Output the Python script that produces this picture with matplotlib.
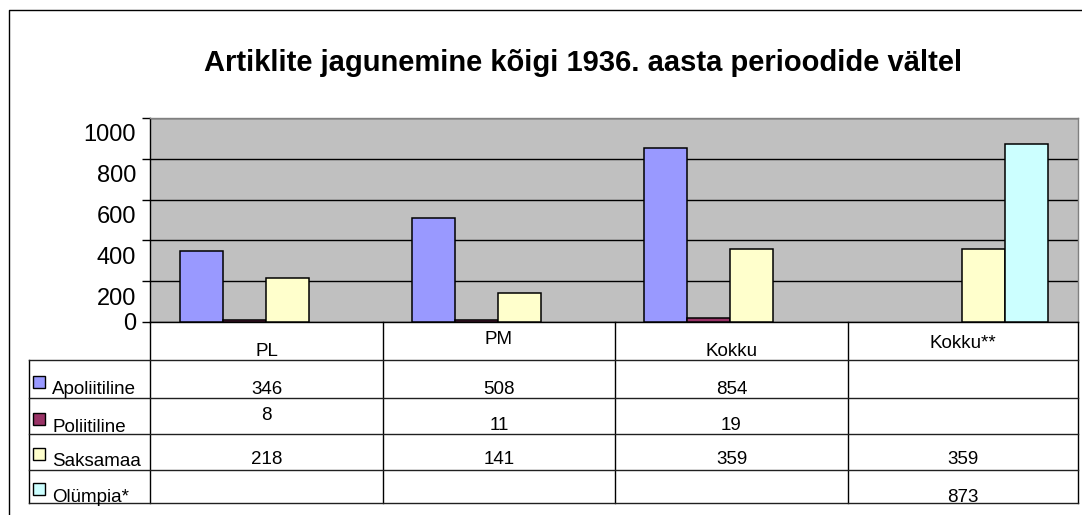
import numpy as np
import matplotlib
matplotlib.use("Agg")
import matplotlib.pyplot as plt
import matplotlib.transforms as mtransforms
from matplotlib.patches import Rectangle

# ---------------- data ----------------
title = "Artiklite jagunemine kõigi 1936. aasta perioodide vältel"
categories = ["PL", "PM", "Kokku", "Kokku**"]
series_names = ["Apoliitiline", "Poliitiline", "Saksamaa", "Olümpia*"]
apoliitiline = [346, 508, 854, np.nan]
poliitiline = [8, 11, 19, np.nan]
saksamaa = [218, 141, 359, 359]
olympia = [np.nan, np.nan, np.nan, 873]
y_ticks = [0, 200, 400, 600, 800, 1000]

series_values = [apoliitiline, poliitiline, saksamaa, olympia]
colors = ["#9999FF", "#993366", "#FFFFCC", "#CCFFFF"]

plt.rcParams['font.family'] = ['Liberation Sans', 'DejaVu Sans']

W, H = 1082, 515
fig = plt.figure(figsize=(W / 100, H / 100), dpi=100)

# plot area in pixel coords
L, R, T, B = 150, 1078, 118, 322
ax = fig.add_axes([L / W, (H - B) / H, (R - L) / W, (B - T) / H])
ax.set_facecolor("#C0C0C0")
ax.set_xlim(-0.5, len(categories) - 0.5)
ax.set_ylim(0, 1000)

bw = 0.185
x = np.arange(len(categories))
offsets = (np.arange(4) - 1.5) * bw
for vals, off, c in zip(series_values, offsets, colors):
    v = np.array(vals, dtype=float)
    m = ~np.isnan(v)
    ax.bar(x[m] + off, v[m], width=bw, color=c, edgecolor="black",
           linewidth=1.1, zorder=3)

ax.set_yticks(y_ticks)
ax.set_yticklabels([str(t) for t in y_ticks], fontsize=17)
ax.yaxis.grid(True, color="black", linewidth=1.0)
ax.set_axisbelow(True)
ax.set_xticks([])
ax.tick_params(axis="y", length=6, width=1, pad=4, colors="black")
for lab, t in zip(ax.get_yticklabels(), y_ticks):
    if t != 0:
        lab.set_transform(lab.get_transform() +
                          mtransforms.ScaledTranslation(0, -0.15, fig.dpi_scale_trans))
ax.spines["left"].set_color("black")
ax.spines["bottom"].set_color("black")
ax.spines["top"].set_color("#808080")
ax.spines["right"].set_color("#808080")
for s in ax.spines.values():
    s.set_linewidth(1.0)

# ---------------- overlay (title, table, frame) ----------------
ov = fig.add_axes([0, 0, 1, 1], zorder=5)
ov.set_xlim(0, W)
ov.set_ylim(H, 0)
ov.axis("off")
ov.patch.set_alpha(0)

# outer frame
ov.plot([9, 9, W + 5], [H + 5, 10, 10], color="black", lw=1.0)

ov.text(583, 63, title, fontsize=21, fontweight="bold", ha="center", va="center")

# table geometry
col_edges = [L, 383, 615, 848, R]
row_edges = [360, 398, 434, 470, 503]
tl_left = 29
for xe in col_edges:
    ov.plot([xe, xe], [B, row_edges[-1]], color="black", lw=1.0)
ov.plot([tl_left, tl_left], [row_edges[0], row_edges[-1]], color="black", lw=1.0)
for ye in row_edges:
    ov.plot([tl_left, R], [ye, ye], color="#202020", lw=1.0)

col_centers = [(col_edges[i] + col_edges[i + 1]) / 2 for i in range(4)]
header_y = [351, 340, 351, 343]
for cx, hy, cat in zip(col_centers, header_y, categories):
    ov.text(cx, hy, cat, fontsize=13.5, ha="center", va="center")

row_text_y = [389, 426, 460, 497]
key_top = [376, 413, 448, 483]
for r, (name, vals, c) in enumerate(zip(series_names, series_values, colors)):
    ov.add_patch(Rectangle((33, key_top[r]), 12, 12, facecolor=c,
                           edgecolor="black", lw=1.0))
    ov.text(52, row_text_y[r] + 1, name, fontsize=13.5, ha="left", va="center")
    for ci, v in enumerate(vals):
        if np.isnan(v):
            continue
        yy = row_text_y[r]
        if r == 1 and ci == 0:
            yy = 415
        ov.text(col_centers[ci], yy, f"{int(v)}", fontsize=13.5,
                ha="center", va="center")

fig.savefig("out.png", dpi=100)
